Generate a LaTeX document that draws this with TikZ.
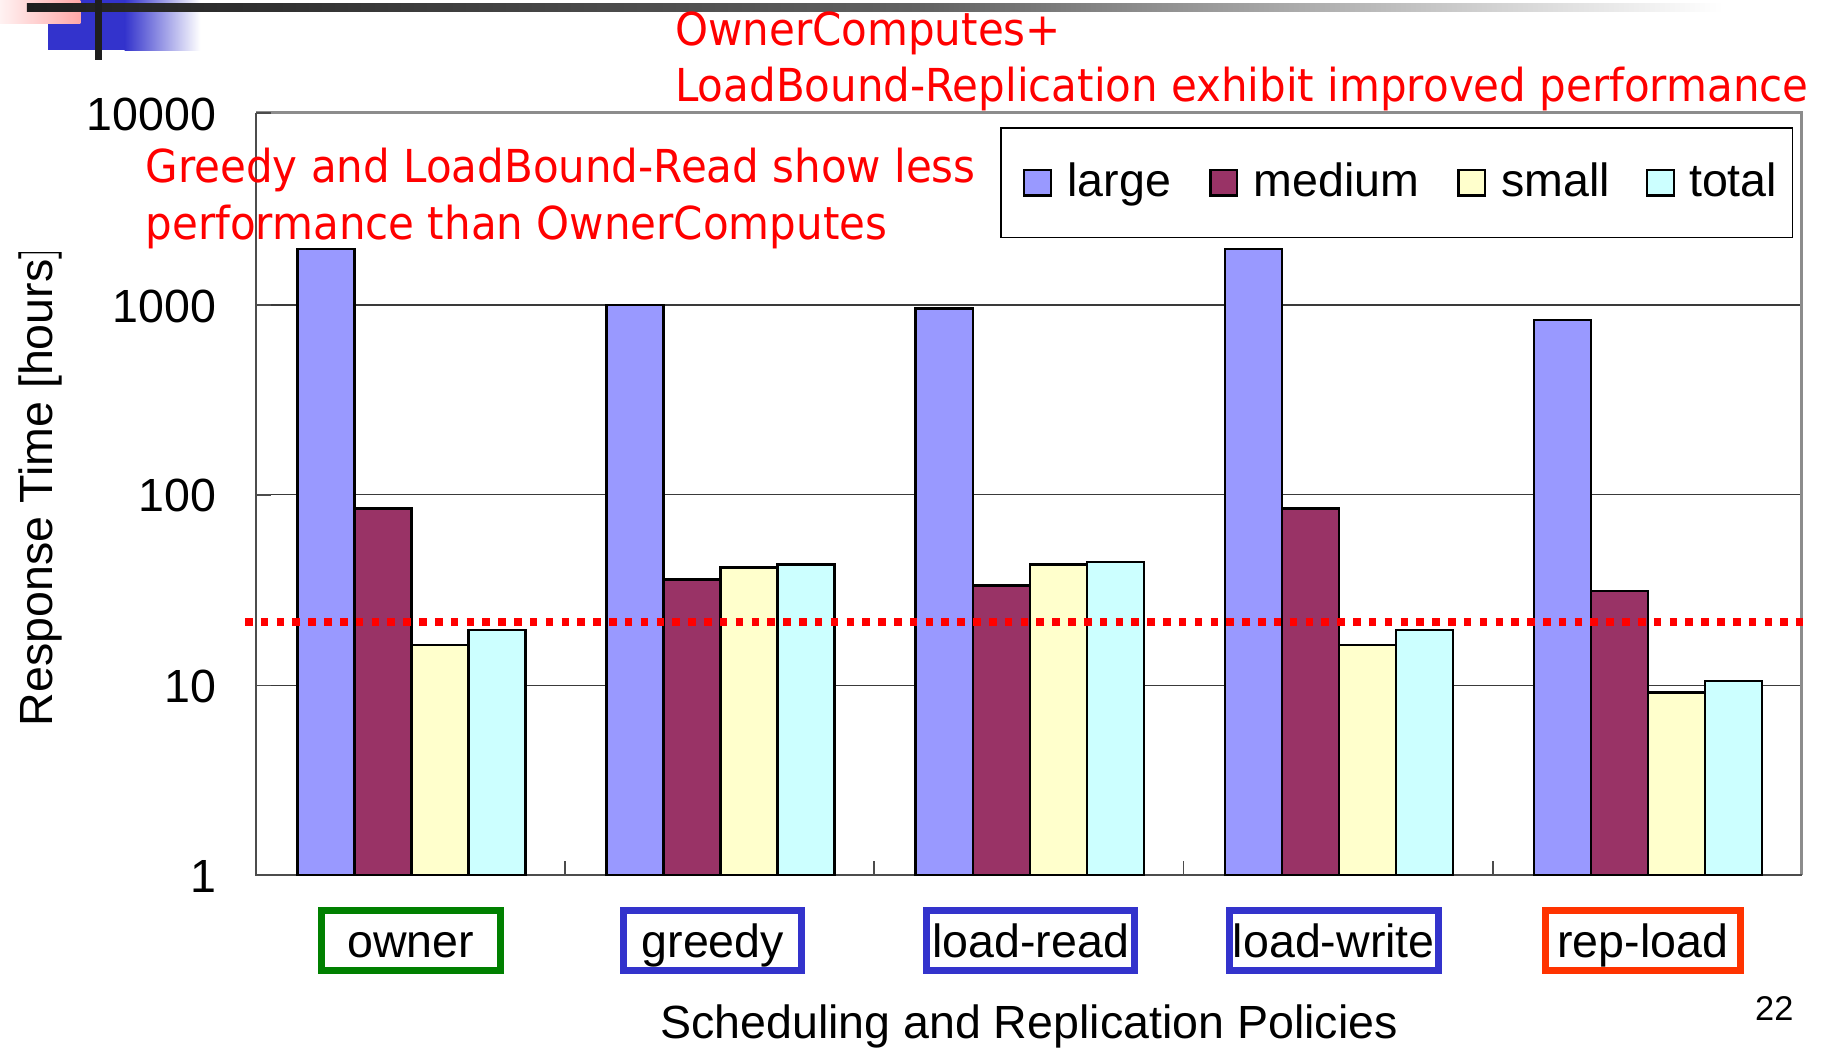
\documentclass[tikz,border=0pt]{standalone}
\usepackage{fontspec}
\setmainfont{Liberation Sans}
\newfontfamily\notefont[FakeStretch=0.925]{DejaVu Sans}

\definecolor{clarge}{HTML}{9999FF}
\definecolor{cmedium}{HTML}{993366}
\definecolor{csmall}{HTML}{FFFFCC}
\definecolor{ctotal}{HTML}{CCFFFF}
\definecolor{sblue}{HTML}{3333CC}
\definecolor{sgreen}{HTML}{008000}
\definecolor{sred}{HTML}{FF3300}
\definecolor{notered}{HTML}{FF0000}
\definecolor{framegray}{HTML}{8C8C8C}
\definecolor{gridgray}{HTML}{3A3A3A}
\definecolor{pinklight}{HTML}{FFF2F2}
\definecolor{pinkdark}{HTML}{FFA8A8}
\definecolor{barA}{HTML}{1E1E1E}
\definecolor{barB}{HTML}{636363}

\begin{document}
\begin{tikzpicture}[x=1pt,y=-1pt,
  chartfont/.style={font=\fontsize{40}{48}\selectfont},
  notetext/.style={text=notered, font=\notefont\fontsize{39}{48}\selectfont,
    inner sep=0pt, anchor=base west},
  ticklabel/.style={chartfont, inner sep=0pt, anchor=base east},
  legendlabel/.style={chartfont, inner sep=0pt, anchor=base west},
  barshape/.style={draw=black, line width=2pt},
  keybox/.style={draw=black, line width=2pt, fill=#1, inner sep=0pt,
    minimum width=23pt, minimum height=22pt},
  catbox/.style={draw=#1, line width=6pt, fill=white, inner sep=0pt,
    minimum height=52pt, chartfont, text height=28.6pt, text depth=0pt},
  gridline/.style={draw=gridgray, line width=1.3pt},
  axisline/.style={draw=black!70, line width=1.6pt},
  borderline/.style={draw=framegray, line width=2.6pt},
  refline/.style={draw=notered, line width=6.5pt, dash pattern=on 6.5pt off 7.1pt}
]
\useasboundingbox (0,0) rectangle (1568,900);
\fill[white] (0,0) rectangle (1568,900);

% slide ornament in the upper left corner
\fill[sblue] (41,0) rectangle (107,43);
\shade[left color=sblue, right color=white] (107,0) rectangle (172,43);
\shade[left color=pinklight, right color=pinkdark] (0,0) rectangle (69,20.6);
\shade[left color=barA, right color=barB] (23,3.4) rectangle (800,10.3);
\shade[left color=barB, right color=white] (800,3.4) rectangle (1480,10.3);
\fill[barA] (81.6,0) rectangle (87.4,51.5);

% horizontal grid
\foreach \gy in {262,425,589}
  \draw[gridline] (220,\gy) -- (1548,\gy);

% plot frame
\draw[borderline] (220,97) -- (1548,97) -- (1548,752);
\draw[axisline] (220,97) -- (220,752) -- (1548,752);

% bars: large, medium, small, total for each policy
\foreach \g/\ta/\tb/\tc/\td in {0/214/437/554/541, 1/262.3/498/487.7/485,
    2/265/503/485/482.8, 3/214/437/554/541, 4/274.7/508/595/585} {
  \pgfmathsetmacro\xs{255.5+\g*265.6}
  \draw[barshape, fill=clarge] (\xs,752) rectangle ({\xs+49},\ta);
  \draw[barshape, fill=cmedium] ({\xs+49},752) rectangle ({\xs+98},\tb);
  \draw[barshape, fill=csmall] ({\xs+98},752) rectangle ({\xs+147},\tc);
  \draw[barshape, fill=ctotal] ({\xs+147},752) rectangle ({\xs+196},\td);
}

% tick marks
\foreach \gy in {97,262,425,589,752}
  \draw[axisline] (220,\gy) -- ++(13,0);
\foreach \k in {1,...,4}
  \draw[axisline] ({220+\k*265.6},752) -- ++(0,-12);

% reference level
\coordinate (refL) at (210.5,534.6);
\coordinate (refR) at (1549,534.6);
\draw[refline] (refL) -- (refR);

% y axis labels
\node[ticklabel] (t10000) at (186,112) {10000};
\node[ticklabel] (t1000) at (186,276.8) {1000};
\node[ticklabel] (t100) at (186,439.8) {100};
\node[ticklabel] (t10) at (186,603.8) {10};
\node[ticklabel] (t1) at (186,766.8) {1};

\begin{scope}
  \clip (0,217) rectangle (120,900);
  \node[chartfont, rotate=90, anchor=base west, inner sep=0pt] (ytitle)
    at (45,624) {Response Time [hours]};
\end{scope}

% legend
\node[draw=black, line width=1.3pt, fill=white, minimum width=680pt,
  minimum height=94pt, inner sep=0pt] (legend) at (1200,157) {};
\node[keybox=clarge] (klarge) at (891.5,157) {};
\node[legendlabel] (llarge) at (917,169) {large};
\node[keybox=cmedium] (kmedium) at (1051.5,157) {};
\node[legendlabel] (lmedium) at (1077,169) {medium};
\node[keybox=csmall] (ksmall) at (1264.5,157) {};
\node[legendlabel] (lsmall) at (1290,169) {small};
\node[keybox=ctotal] (ktotal) at (1426.5,157) {};
\node[legendlabel] (ltotal) at (1451,169) {total};

% policy labels
\node[catbox=sgreen, minimum width=154pt] (owner) at (353,808) {owner};
\node[catbox=sblue, minimum width=153pt] (greedy) at (612.5,808) {greedy};
\node[catbox=sblue, minimum width=179pt] (loadread) at (885.5,808) {load-read};
\node[catbox=sblue, minimum width=180pt] (loadwrite) at (1146,808) {load-write};
\node[catbox=sred, minimum width=167pt] (repload) at (1411.5,808) {rep-load};

\node[chartfont, anchor=base west, inner sep=0pt] (xtitle) at (567,892)
  {Scheduling and Replication Policies};
\node[font=\fontsize{29.5}{34}\selectfont, anchor=base east, inner sep=0pt]
  (pagenum) at (1541,876.5) {22};

% annotations
\node[notetext] (noteA1) at (580,39.5) {OwnerComputes+};
\node[notetext] (noteA2) at (580,87.5)
  {LoadBound-Replication exhibit improved performance};
\node[notetext] (noteB1) at (125,157) {Greedy and LoadBound-Read show less};
\node[notetext] (noteB2) at (125,206) {performance than OwnerComputes};
\end{tikzpicture}
\end{document}
